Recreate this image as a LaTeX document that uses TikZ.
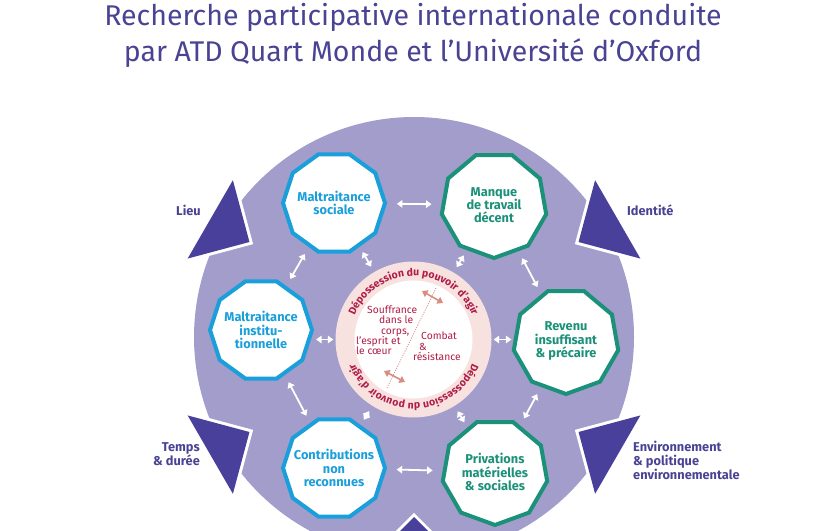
\documentclass[tikz,border=0pt]{standalone}
\usepackage{fontspec}
\setmainfont{Fira Sans}
\usetikzlibrary{shapes.geometric,arrows.meta,calc,decorations.text}
\definecolor{lav}{HTML}{A29DCA}
\definecolor{dpurple}{HTML}{48409A}
\definecolor{cblue}{HTML}{1A9FDB}
\definecolor{cgreen}{HTML}{1B917A}
\definecolor{dred}{HTML}{B01C46}
\definecolor{pring}{HTML}{F7E2E0}
\definecolor{parrow}{HTML}{D98C80}
\definecolor{ptext}{HTML}{4A4393}
\begin{document}
\begin{tikzpicture}[x=1pt,y=1pt,
  deca/.style={regular polygon, regular polygon sides=10, minimum size=102pt,
    inner sep=0pt, draw=cblue, line width=4pt, fill=white},
  nona/.style={regular polygon, regular polygon sides=9, shape border rotate=180,
    minimum size=106pt, inner sep=0pt, draw=cgreen, line width=4pt, fill=white},
  btext/.style={text=cblue, font=\fontsize{12.8}{13.3}\selectfont\bfseries, align=center, inner sep=0pt},
  gtext/.style={text=cgreen, font=\fontsize{12.8}{13.3}\selectfont\bfseries, align=center, inner sep=0pt},
  warrow/.style={{Triangle[width=7.5pt,length=5.5pt]}-{Triangle[width=7.5pt,length=5.5pt]},
    draw=white, line width=1.8pt},
  parr/.style={{Triangle[width=7.5pt,length=5.5pt]}-{Triangle[width=7.5pt,length=5.5pt]},
    draw=parrow, line width=1.6pt},
  lbl/.style={text=ptext, font=\fontsize{12.8}{14}\selectfont\bfseries, inner sep=0pt},
  ctext/.style={text=dred, font=\fontsize{10.3}{10.3}\selectfont, inner sep=0pt, align=left}
]
\useasboundingbox (0,0) rectangle (826,530);
% title
\node[text=ptext, font=\fontsize{28.5}{36}\selectfont, align=center] (title) at (413,495)
  {Recherche participative internationale conduite\\par ATD Quart Monde et l’Université d’Oxford};
% big circle
\coordinate (C) at (414,193);
\fill[lav] (C) circle[radius=220];
% triangles (white rim drawn first, purple fill on top)
\foreach \a/\d in {150/190,30/190,210/190,330/190,270/180}{
  \coordinate (V) at ($(C)+(\a:\d)$);
  \draw[white, line width=6pt] (V) -- ($(V)+(\a+45:64)$) -- ($(V)+(\a-45:64)$) -- cycle;
  \fill[dpurple] (V) -- ($(V)+(\a+45:64)$) -- ($(V)+(\a-45:64)$) -- cycle;
}
% inner ring
\node[circle, fill=pring, minimum size=156pt, inner sep=0pt] (IN) at (413.5,190.5) {};
\fill[white] (IN.center) circle[radius=59];
% polygons
\node[deca] (MS) at (334,327) {};
\node[deca] (MI) at (261,200) {};
\node[deca] (CN) at (334,62) {};
\node[nona] (MT) at (494,325) {};
\node[nona] (RI) at (566,189) {};
\node[nona] (PM) at (495,58) {};
\node[btext] (tMS) at (MS.center) {Maltraitance\\sociale};
\node[btext] (tMI) at (MI.center) {Maltraitance\\institu-\\tionnelle};
\node[btext] (tCN) at (CN.center) {Contributions\\non\\reconnues};
\node[gtext] (tMT) at (MT.center) {Manque\\de travail\\décent};
\node[gtext] (tRI) at (RI.center) {Revenu\\insuffisant\\\& précaire};
\node[gtext] (tPM) at (PM.center) {Privations\\matérielles\\\& sociales};
% white arrows
\draw[warrow, shorten >=10pt, shorten <=10pt] (MS) -- (MT);
\draw[warrow, shorten >=10pt, shorten <=10pt] (CN) -- (PM);
\draw[warrow, shorten >=8pt, shorten <=8pt] (MS) -- (MI);
\draw[warrow, shorten >=8pt, shorten <=8pt] (MI) -- (CN);
\draw[warrow, shorten >=8pt, shorten <=8pt] (MT) -- (RI);
\draw[warrow, shorten >=8pt, shorten <=8pt] (RI) -- (PM);
\draw[warrow, shorten >=6pt, shorten <=6pt] (MS) -- (IN);
\draw[warrow, shorten >=6pt, shorten <=6pt] (MT) -- (IN);
\draw[warrow, shorten >=6pt, shorten <=6pt] (CN) -- (IN);
\draw[warrow, shorten >=6pt, shorten <=6pt] (PM) -- (IN);
\draw[warrow, shorten >=2pt, shorten <=2pt] (MI.east |- IN.west) -- (IN.west);
\draw[warrow, shorten >=2pt, shorten <=2pt] (IN.east) -- (IN.east -| RI.west);
% ring texts
\path[decorate, decoration={text along path, text align=center, text color=dred,
  text={|\fontsize{10.5}{10}\selectfont\bfseries|Dépossession du pouvoir d’agir}}]
  ($(IN.center)+(160:63.5)$) arc[start angle=160, end angle=20, radius=63.5];
\path[decorate, decoration={text along path, text align=center, text color=dred,
  text={|\fontsize{10.5}{10}\selectfont\bfseries|Dépossession du pouvoir d’agir}}]
  ($(IN.center)+(-20:63.5)$) arc[start angle=-20, end angle=-160, radius=63.5];
% centre
\coordinate (D1) at (436,242);
\coordinate (D2) at (387,142);
\draw[parrow, line width=0.7pt, dash pattern=on 1.2pt off 1.2pt] (D1) -- (D2);
\coordinate (P1) at (422,239);
\coordinate (P2) at (443,227);
\coordinate (P3) at (384,159);
\coordinate (P4) at (405,148);
\draw[parr] (P1) -- (P2);
\draw[parr] (P3) -- (P4);
\node[ctext, anchor=north west] (souf) at (356,224.5)
  {\hspace*{11pt}Souffrance\\\hspace*{23pt}dans le\\\hspace*{25pt}corps,\\l’esprit et\\le cœur};
\node[ctext, anchor=north west] (comb) at (413,198)
  {\hspace*{8pt}Combat\\\hspace*{6pt}\&\\résistance};
% outer labels
\node[lbl, anchor=east] (lieu) at (201,320) {Lieu};
\node[lbl, anchor=west] (ident) at (627,320) {Identité};
\node[lbl, anchor=east, align=right] (temps) at (200,76) {Temps\\\& durée};
\node[lbl, anchor=west, align=left] (env) at (633,70) {Environnement\\\& politique\\environnementale};
\end{tikzpicture}
\end{document}
